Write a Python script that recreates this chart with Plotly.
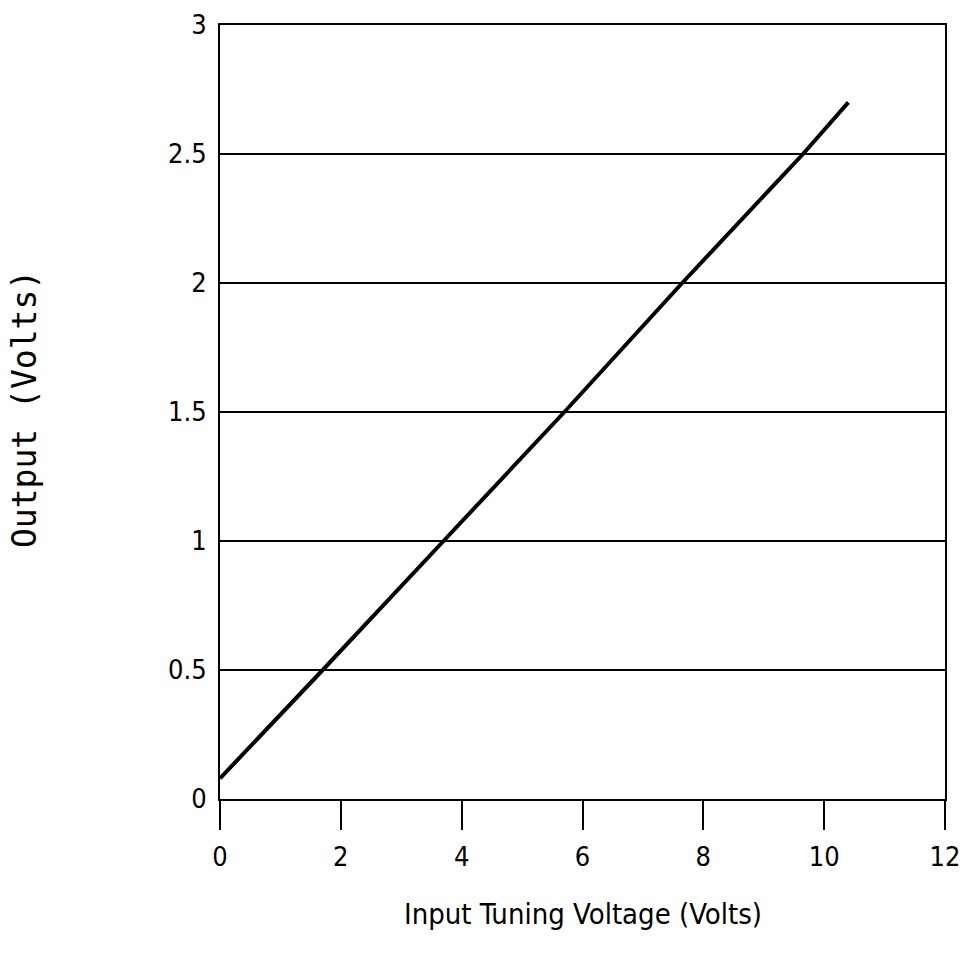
import plotly.graph_objects as go

# Data
input_voltage = [0.0, 1.7, 3.7, 5.7, 7.65, 9.65, 10.4]
output_voltage = [0.08, 0.5, 1.0, 1.5, 2.0, 2.5, 2.7]

x_ticks = [0, 2, 4, 6, 8, 10, 12]
y_ticks = [0, 0.5, 1, 1.5, 2, 2.5, 3]
y_tick_labels = ["0", "0.5", "1", "1.5", "2", "2.5", "3"]

tick_font = dict(family="DejaVu Sans Condensed, sans-serif", size=27, color="black")

fig = go.Figure()
fig.add_trace(go.Scatter(
    x=input_voltage, y=output_voltage, mode="lines",
    line=dict(color="black", width=4), showlegend=False, hoverinfo="skip"))

fig.update_layout(
    width=964, height=964,
    margin=dict(l=220, r=19, t=25, b=165),
    paper_bgcolor="white", plot_bgcolor="white",
    xaxis=dict(
        range=[0, 12], tickvals=x_ticks, ticktext=[str(v) for v in x_ticks],
        ticks="outside", ticklen=29, tickwidth=2, tickcolor="black",
        showgrid=False, zeroline=False, automargin=False,
        showline=True, linecolor="black", linewidth=2, mirror=True,
        tickfont=tick_font, ticklabelstandoff=4,
    ),
    yaxis=dict(
        range=[0, 3], tickvals=y_ticks, ticktext=y_tick_labels,
        ticks="", showgrid=True, gridcolor="black", gridwidth=2,
        zeroline=False, automargin=False,
        showline=True, linecolor="black", linewidth=2, mirror=True,
        tickfont=tick_font, ticklabelstandoff=6,
    ),
    annotations=[
        dict(text="Input Tuning Voltage (Volts)", xref="paper", yref="paper",
             x=0.5, y=-0.148, xanchor="center", yanchor="middle", showarrow=False,
             font=dict(family="DejaVu Sans Condensed, sans-serif", size=29, color="black")),
        dict(text="Output (Volts)", xref="paper", yref="paper",
             x=(24 - 220) / 725, y=(799 - 409) / 774, xanchor="center", yanchor="middle",
             showarrow=False, textangle=-90,
             font=dict(family="DejaVu Sans Mono, monospace", size=33, color="black")),
    ],
)

fig.write_html("out.html")
